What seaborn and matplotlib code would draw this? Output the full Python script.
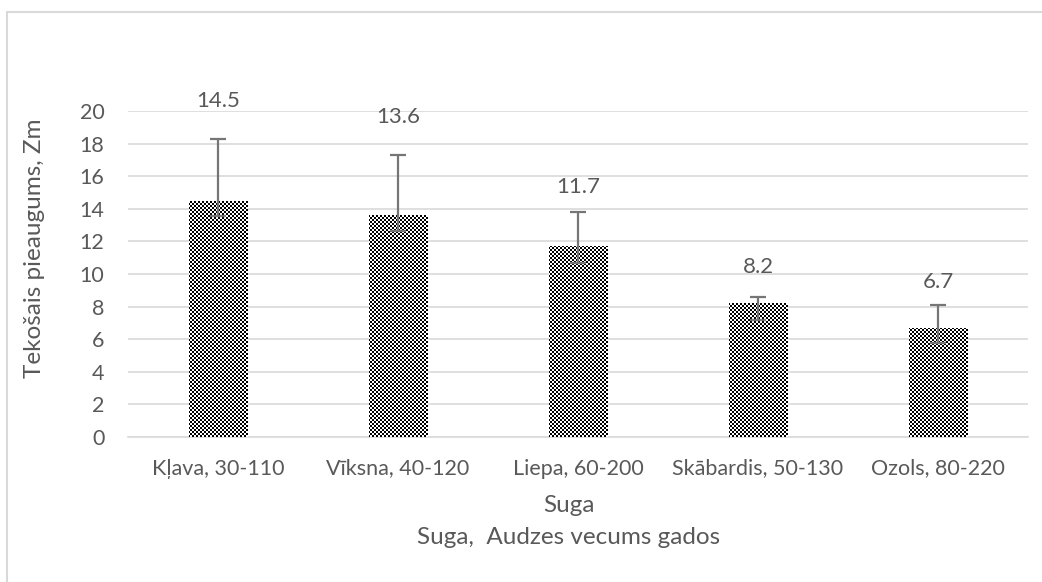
import numpy as np
import pandas as pd
import matplotlib
matplotlib.use("Agg")
import matplotlib.pyplot as plt
from matplotlib.patches import Rectangle
from matplotlib.image import FigureImage
from matplotlib.transforms import IdentityTransform
import seaborn as sns

categories = ["Kļava, 30-110", "Vīksna, 40-120", "Liepa, 60-200",
              "Skābardis, 50-130", "Ozols, 80-220"]
values = [14.5, 13.6, 11.7, 8.2, 6.7]
err_upper = [3.8, 3.7, 2.1, 0.4, 1.4]
err_lower = [0.95, 0.95, 1.0, 1.0, 0.95]
value_labels = ["14.5", "13.6", "11.7", "8.2", "6.7"]
yticks = [0, 2, 4, 6, 8, 10, 12, 14, 16, 18, 20]

sns.set_theme(style="white")
plt.rcParams['font.family'] = ['Lato', 'DejaVu Sans']
TXT = "#595959"

W, H = 1042, 582
AX_L, AX_B, AX_W, AX_H = 128, 145, 900, 326
fig = plt.figure(figsize=(W / 100, H / 100), dpi=100)
ax = fig.add_axes([AX_L / W, AX_B / H, AX_W / W, AX_H / H])

df = pd.DataFrame({"Suga": categories, "val": values})
sns.barplot(data=df, x="Suga", y="val", color="white", width=0.32,
            edgecolor="none", linewidth=0, ax=ax, zorder=2)

ax.set_xlim(-0.5, 4.5)
ax.set_ylim(0, 20)

# pixel-exact checkerboard (2 px cells), clipped to each bar
yy, xx = np.mgrid[0:AX_H, 0:AX_W]
checker = (((xx // 2) + (yy // 2)) % 2).astype(float)
for p in list(ax.patches):
    im = FigureImage(fig, cmap="gray", offsetx=AX_L, offsety=AX_B, origin="lower")
    im.set_data(checker)
    im.set_clim(0, 1)
    im.set_zorder(3)
    im.set_transform(IdentityTransform())
    ax.add_artist(im)
    im.set_clip_path(p)

xs = np.arange(len(categories))
ax.errorbar(xs, values, yerr=[err_lower, err_upper], fmt="none", ecolor="#767676",
            elinewidth=1.6, capsize=6, capthick=1.6, zorder=5)

offsets = [38, 38, 25, 30, 23]
for x, v, e, lab, off in zip(xs, values, err_upper, value_labels, offsets):
    ax.annotate(lab, (x, v + e), xytext=(0, off), textcoords="offset pixels",
                ha="center", va="center", fontsize=16, color=TXT)

ax.set_yticks(yticks)
ax.yaxis.grid(True, color="#d9d9d9", linewidth=1.2, zorder=0)
ax.set_axisbelow(True)
for s in ["top", "right", "left"]:
    ax.spines[s].set_visible(False)
ax.spines["bottom"].set_color("#d9d9d9")
ax.spines["bottom"].set_linewidth(1.2)
ax.tick_params(axis="both", length=0, labelsize=15.5, labelcolor=TXT)
ax.tick_params(axis="x", pad=15.5)
ax.tick_params(axis="y", pad=17)

ax.set_xlabel("Suga", fontsize=17.5, color=TXT)
ax.xaxis.label.set_va("center")
ax.xaxis.set_label_coords(0.5 - 9 / 900, -(505 - 437) / 326)
ax.set_ylabel("Tekošais pieaugums, Zm", fontsize=17.5, color=TXT)
ax.yaxis.label.set_va("center")
ax.yaxis.set_label_coords(-(128 - 35) / 900, (437 - 248) / 326)
fig.text(569 / W, 1 - 537 / H, "Suga,  Audzes vecums gados", ha="center", va="center",
         fontsize=17.5, color=TXT)

fig.patches.append(Rectangle((7 / W, -0.1), 1.2, 1.1 - 12 / H, transform=fig.transFigure,
                             fill=False, edgecolor="#d9d9d9", linewidth=1.5, zorder=-1))

fig.savefig("out.png", dpi=100, facecolor="white")
